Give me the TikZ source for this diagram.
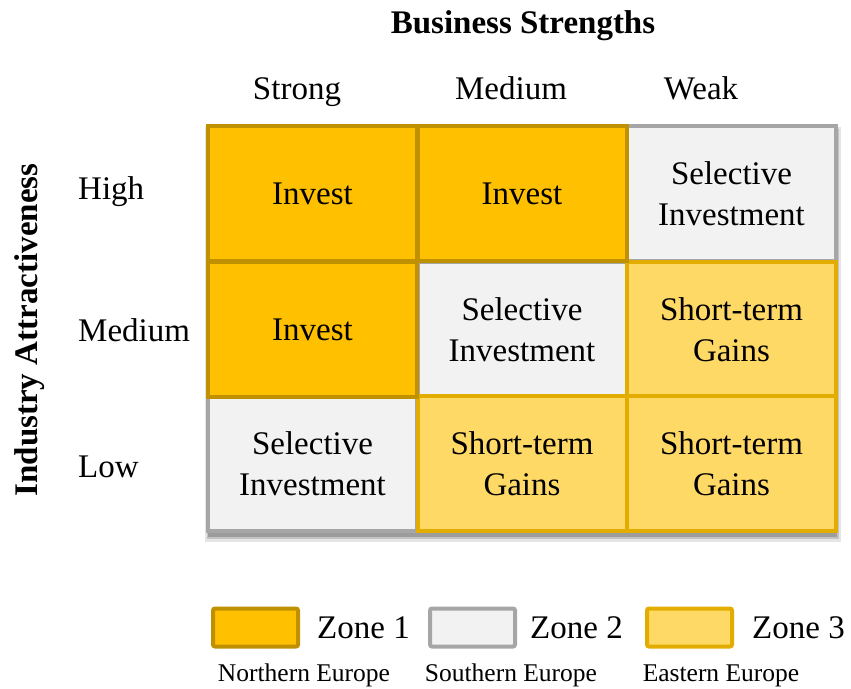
\documentclass[tikz,border=0pt]{standalone}
\usepackage{fontspec}
\setmainfont{Liberation Serif}
\usetikzlibrary{calc,positioning,backgrounds}
\definecolor{zoneonefill}{HTML}{FFC000}
\definecolor{zoneonedraw}{HTML}{BF9000}
\definecolor{zonetwofill}{HTML}{F2F2F2}
\definecolor{zonetwodraw}{HTML}{A6A6A6}
\definecolor{zonethreefill}{HTML}{FFD966}
\definecolor{zonethreedraw}{HTML}{E2AD00}
\tikzset{
  cell/.style={
    rectangle,
    minimum width=209pt,
    minimum height=135pt,
    line width=4pt,
    outer sep=0pt,
    inner sep=0pt,
    align=center,
    font=\fontsize{33}{41}\selectfont},
  zoneone/.style={cell, fill=zoneonefill, draw=zoneonedraw},
  zonetwo/.style={cell, fill=zonetwofill, draw=zonetwodraw},
  zonethree/.style={cell, fill=zonethreefill, draw=zonethreedraw},
  legendbox/.style={
    rectangle,
    rounded corners=2pt,
    minimum width=85pt,
    minimum height=38pt,
    line width=4pt},
  axislabel/.style={inner sep=0pt, font=\fontsize{33}{40}\selectfont\bfseries},
  ticklabel/.style={inner sep=0pt, font=\fontsize{33}{40}\selectfont},
  regionlabel/.style={inner sep=0pt, font=\fontsize{25.5}{30}\selectfont},
}
\begin{document}
\begin{tikzpicture}[x=1pt, y=-1pt]
  \useasboundingbox (0,0) rectangle (851,688);
  % titles
  \node (business) [axislabel, anchor=base] at (523,33) {Business Strengths};
  \node (industry) [axislabel, rotate=90] at (30,330) {Industry Attractiveness};
  % column and row headers
  \node (strong) [ticklabel, anchor=base] at (297,99) {Strong};
  \node (medcol) [ticklabel, anchor=base] at (511,99) {Medium};
  \node (weak) [ticklabel, anchor=base] at (701,99) {Weak};
  \node (high) [ticklabel, anchor=base west] at (78,199) {High};
  \node (medrow) [ticklabel, anchor=base west] at (78,341) {Medium};
  \node (low) [ticklabel, anchor=base west] at (78,477) {Low};
  % grid: zone 2 first, then zone 3, zone 1 on top
  \node (c13) [zonetwo] at (731.5,193.5) {Selective\\Investment};
  \node (c22) [zonetwo] at (522,329.5) {Selective\\Investment};
  \node (c31) [zonetwo] at (312.5,463.5) {Selective\\Investment};
  \node (c23) [zonethree] at (731.5,329.5) {Short-term\\Gains};
  \node (c32) [zonethree] at (522,463.5) {Short-term\\Gains};
  \node (c33) [zonethree] at (731.5,463.5) {Short-term\\Gains};
  \node (c11) [zoneone] at (312.5,193.5) {Invest};
  \node (c12) [zoneone] at (522,193.5) {Invest};
  \node (c21) [zoneone] at (312.5,329.5) {Invest};
  \begin{scope}[on background layer]
    \fill[black, opacity=0.10] ($(c11.north west)+(-3,1)$) rectangle ($(c33.south east)+(5,11)$);
    \fill[black, opacity=0.15] ($(c11.north west)+(-1,3)$) rectangle ($(c33.south east)+(3,8)$);
    \fill[black, opacity=0.20] ($(c11.north west)+(0,4)$) rectangle ($(c33.south east)+(1,6)$);
  \end{scope}
  % legend
  \node (zoneonebox) [legendbox, fill=zoneonefill, draw=zoneonedraw] at (255.5,627.5) {};
  \node (zoneonetext) [ticklabel, right=17pt of zoneonebox] {Zone 1};
  \node (zonetwobox) [legendbox, fill=zonetwofill, draw=zonetwodraw] at (472.5,627.5) {};
  \node (zonetwotext) [ticklabel, right=13pt of zonetwobox] {Zone 2};
  \node (zonethreebox) [legendbox, fill=zonethreefill, draw=zonethreedraw] at (689.5,627.5) {};
  \node (zonethreetext) [ticklabel, right=18pt of zonethreebox] {Zone 3};
  \node (northern) [regionlabel, anchor=base] at (304,681) {Northern Europe};
  \node (southern) [regionlabel, anchor=base] at (511,681) {Southern Europe};
  \node (eastern) [regionlabel, anchor=base] at (721,681) {Eastern Europe};
\end{tikzpicture}
\end{document}
